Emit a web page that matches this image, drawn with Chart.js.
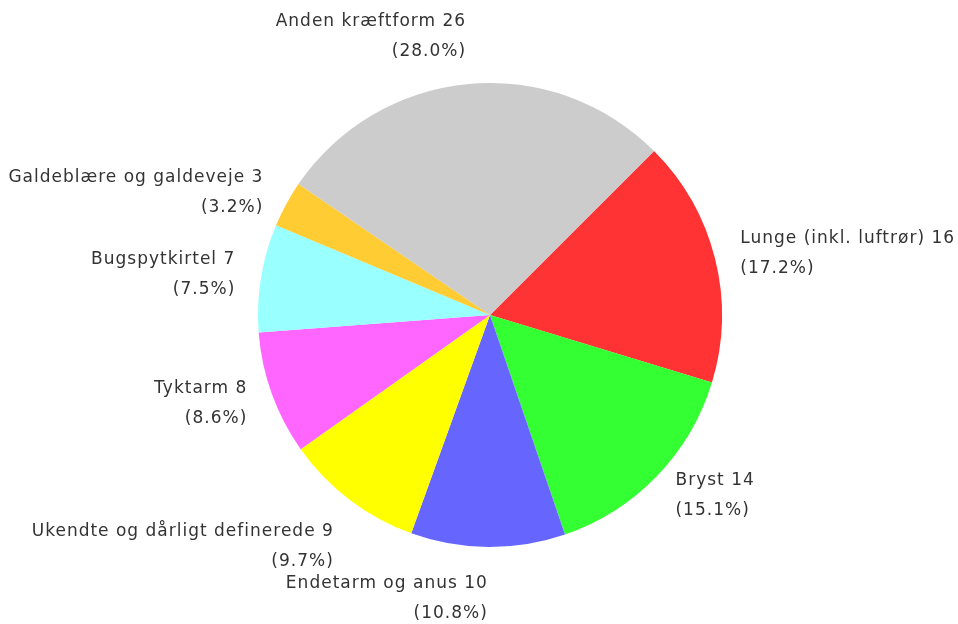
<!DOCTYPE html>
<html lang="da">
<head>
  <meta charset="UTF-8">
  <title>Kræftformer</title>
  <style>
    html, body {
      margin: 0;
      padding: 0;
      background: #fff;
    }
    .wrap {
      width: 958px;
      height: 624px;
    }
  </style>
  <script src="https://cdn.jsdelivr.net/npm/chart.js"></script>
</head>
<body>
  <div class="wrap">
    <canvas id="pie" width="958" height="624"></canvas>
  </div>

  <script>
    // data, clockwise from the red slice
    const labels = [
      'Lunge (inkl. luftrør)',
      'Bryst',
      'Endetarm og anus',
      'Ukendte og dårligt definerede',
      'Tyktarm',
      'Bugspytkirtel',
      'Galdeblære og galdeveje',
      'Anden kræftform'
    ];
    const counts = [16, 14, 10, 9, 8, 7, 3, 26];
    const colors = ['#FF3333', '#33FF33', '#6666FF', '#FFFF00', '#FF66FF', '#99FFFF', '#FFCC33', '#CCCCCC'];

    const total = counts.reduce((a, b) => a + b, 0);

    // labels outside the pie: name + count, then share in brackets
    const outsideLabels = {
      id: 'outsideLabels',
      afterDatasetsDraw(chart) {
        const ctx = chart.ctx;
        const arcs = chart.getDatasetMeta(0).data;
        ctx.save();
        ctx.font = '17px "DejaVu Sans", Verdana, sans-serif';
        ctx.letterSpacing = '1px';
        ctx.fillStyle = '#333';
        ctx.textBaseline = 'middle';
        arcs.forEach((arc, i) => {
          const p = arc.getProps(['x', 'y', 'startAngle', 'endAngle', 'outerRadius'], true);
          const mid = (p.startAngle + p.endAngle) / 2;
          const dx = Math.cos(mid);
          const dy = Math.sin(mid);
          const r = p.outerRadius + 26;
          const ax = p.x + dx * r;
          const ay = p.y + dy * r;
          const line1 = labels[i] + ' ' + counts[i];
          const line2 = '(' + (counts[i] / total * 100).toFixed(1) + '%)';
          ctx.textAlign = dx < 0 ? 'right' : 'left';
          let y1;
          if (dy > 0.75) {
            y1 = ay + 11;
          } else if (dy < -0.75) {
            y1 = ay - 37;
          } else {
            y1 = ay - 14;
          }
          ctx.fillText(line1, ax, y1);
          ctx.fillText(line2, ax, y1 + 30);
        });
        ctx.restore();
      }
    };

    new Chart(document.getElementById('pie'), {
      type: 'pie',
      data: {
        labels: labels,
        datasets: [{
          data: counts,
          backgroundColor: colors,
          borderWidth: 0
        }]
      },
      options: {
        responsive: false,
        animation: false,
        rotation: 45,
        layout: {
          padding: { left: 258, right: 236, top: 83, bottom: 77 }
        },
        plugins: {
          legend: { display: false },
          tooltip: { enabled: false }
        }
      },
      plugins: [outsideLabels]
    });
  </script>
</body>
</html>
